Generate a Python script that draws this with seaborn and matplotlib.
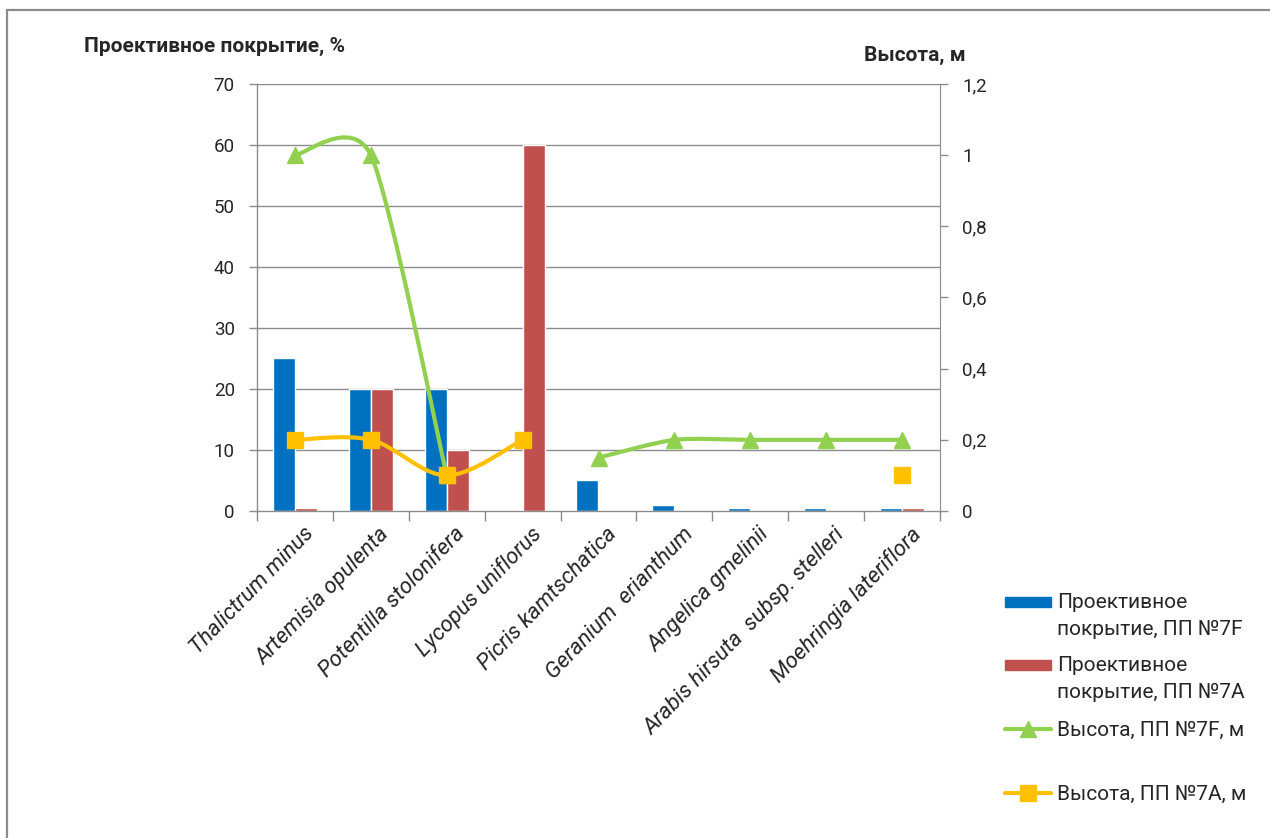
import numpy as np
import pandas as pd
import matplotlib
matplotlib.use("Agg")
import matplotlib.pyplot as plt
import matplotlib.transforms as mtransforms
import seaborn as sns
from matplotlib.path import Path
from matplotlib.patches import PathPatch, Rectangle, Patch
from matplotlib.lines import Line2D
from matplotlib.legend_handler import HandlerPatch

# ---------------- data ----------------
species = ["Thalictrum minus", "Artemisia opulenta", "Potentilla stolonifera",
           "Lycopus uniflorus", "Picris kamtschatica", "Geranium  erianthum",
           "Angelica gmelinii", "Arabis hirsuta  subsp. stelleri",
           "Moehringia lateriflora"]
cover_7F = [25, 20, 20, 0, 5, 1, 0.5, 0.5, 0.5]
cover_7A = [0.5, 20, 10, 60, 0, 0, 0, 0, 0.5]
height_7F = [1, 1, 0.1, np.nan, 0.15, 0.2, 0.2, 0.2, 0.2]
height_7A = [0.2, 0.2, 0.1, 0.2, np.nan, np.nan, np.nan, np.nan, 0.1]
cover_ticks = [0, 10, 20, 30, 40, 50, 60, 70]
height_ticks = [0, 0.2, 0.4, 0.6, 0.8, 1.0, 1.2]
height_tick_labels = ["0", "0,2", "0,4", "0,6", "0,8", "1", "1,2"]
series_labels = ["Проективное\nпокрытие, ПП №7F", "Проективное\nпокрытие, ПП №7A",
                 "Высота, ПП №7F, м", "Высота, ПП №7A, м"]
left_title = "Проективное покрытие, %"
right_title = "Высота, м"

BLUE, RED, GREEN, YELLOW = "#0070C0", "#C0504D", "#92D050", "#FFC000"
GRID = "#8c8c8c"
FS_TICK = 13.5
FS_TXT = 15
FS_CAT = 16

sns.set_style("white")
plt.rcParams["font.family"] = ["Roboto", "DejaVu Sans"]

W, H = 1270, 838
fig = plt.figure(figsize=(W / 100, H / 100), dpi=100)
ax = fig.add_axes([257 / W, 1 - 511 / H, (940 - 257) / W, (511 - 84) / H])

df = pd.DataFrame({
    "species": species * 2,
    "value": cover_7F + cover_7A,
    "series": [series_labels[0]] * len(species) + [series_labels[1]] * len(species),
})
sns.barplot(data=df, x="species", y="value", hue="series", palette=[BLUE, RED],
            width=0.58, gap=0, saturation=1, errorbar=None, legend=False, ax=ax)

ax.set_xlim(-0.5, len(species) - 0.5)
ax.set_ylim(0, 70)
ax.set_yticks(cover_ticks)
ax.set_xlabel("")
ax.set_ylabel("")
ax.grid(False)
for y in cover_ticks[1:]:
    ax.axhline(y, color=GRID, lw=1, zorder=0)
for s in ["top", "right"]:
    ax.spines[s].set_visible(False)
for s in ["left", "bottom"]:
    ax.spines[s].set_color(GRID)
    ax.spines[s].set_linewidth(1)
ax.tick_params(axis="y", which="major", length=6, width=1, color=GRID, direction="out",
               labelsize=FS_TICK, pad=10, left=True)
ax.set_xticks(np.arange(len(species)))
ax.set_xticks(np.arange(-0.5, len(species), 1), minor=True)
ax.tick_params(axis="x", which="minor", length=7, width=1, color=GRID, direction="out", bottom=True)
ax.tick_params(axis="x", which="major", length=0, pad=9)
ax.set_xticklabels(species, rotation=46, ha="right", rotation_mode="anchor",
                   fontsize=FS_CAT, style="italic")
off = mtransforms.ScaledTranslation(8 / 100, 0, fig.dpi_scale_trans)
for lab in ax.get_xticklabels():
    lab.set_transform(lab.get_transform() + off)

ax2 = ax.twinx()
ax2.set_ylim(0, 1.2)
ax2.set_yticks(height_ticks)
ax2.set_yticklabels(height_tick_labels)
ax2.grid(False)
for s in ["top", "left", "bottom"]:
    ax2.spines[s].set_visible(False)
ax2.spines["right"].set_color(GRID)
ax2.tick_params(axis="y", length=6, width=1, color=GRID, direction="out",
                labelsize=FS_TICK, pad=10)


def smooth_runs(xs, ys, tension=1 / 6):
    """Smoothed (Catmull-Rom Bezier) path through each run of non-missing points."""
    xs = np.asarray(xs, float)
    ys = np.asarray(ys, float)
    verts, codes = [], []
    ok = ~np.isnan(ys)
    i = 0
    n = len(ys)
    while i < n:
        if not ok[i]:
            i += 1
            continue
        j = i
        while j + 1 < n and ok[j + 1]:
            j += 1
        if j > i:
            P = np.column_stack([xs[i:j + 1], ys[i:j + 1]])
            m = len(P)
            verts.append(P[0]); codes.append(Path.MOVETO)
            for k in range(m - 1):
                p0 = P[k - 1] if k > 0 else P[k]
                p1, p2 = P[k], P[k + 1]
                p3 = P[k + 2] if k + 2 < m else P[k + 1]
                c1 = p1 + (p2 - p0) * tension
                c2 = p2 - (p3 - p1) * tension
                verts += [c1, c2, p2]
                codes += [Path.CURVE4] * 3
        i = j + 1
    return Path(verts, codes)


xpos = np.arange(len(species))
for vals, col, mk, ten in [(height_7F, GREEN, "^", 0.125), (height_7A, YELLOW, "s", 1 / 6)]:
    ax2.add_patch(PathPatch(smooth_runs(xpos, vals, ten), fill=False, edgecolor=col,
                            lw=3, capstyle="round", joinstyle="round", zorder=3))
    ax2.plot(xpos, vals, linestyle="none", marker=mk, markersize=11,
             color=col, markeredgecolor=col, zorder=4)

# axis titles
fig.text(215 / W, 1 - 46 / H, left_title, ha="center", va="center",
         fontsize=FS_TXT, fontweight="bold")
fig.text(915 / W, 1 - 55 / H, right_title, ha="center", va="center",
         fontsize=FS_TXT, fontweight="bold")

# frame around chart area
fig.add_artist(Line2D([7 / W, 7 / W], [0, 1 - 10 / H], color="#8c8c8c", lw=1.6,
                      transform=fig.transFigure))
fig.add_artist(Line2D([7 / W, 1], [1 - 10 / H, 1 - 10 / H], color="#8c8c8c", lw=1.6,
                      transform=fig.transFigure))


# legend: four stacked entries
def top_patch(legend, orig_handle, xdescent, ydescent, width, height, fontsize):
    return Rectangle((-xdescent, -ydescent + 0.78 * fontsize), width, height * 0.75)


handles = [Patch(color=BLUE), Patch(color=RED),
           Line2D([], [], color=GREEN, lw=3, marker="^", markersize=11),
           Line2D([], [], color=YELLOW, lw=3, marker="s", markersize=11)]
tops = [593, 656, 721, 785]
for h, lab, t in zip(handles, series_labels, tops):
    leg = fig.legend([h], [lab], loc="upper left", bbox_to_anchor=(1005 / W, 1 - t / H),
                     frameon=False, fontsize=FS_TXT, handlelength=2.2, handletextpad=0.3,
                     borderpad=0, borderaxespad=0,
                     handler_map={Patch: HandlerPatch(patch_func=top_patch)})
    for tx in leg.get_texts():
        tx.set_linespacing(1.55)

fig.savefig("out.png", dpi=100, facecolor="white")
